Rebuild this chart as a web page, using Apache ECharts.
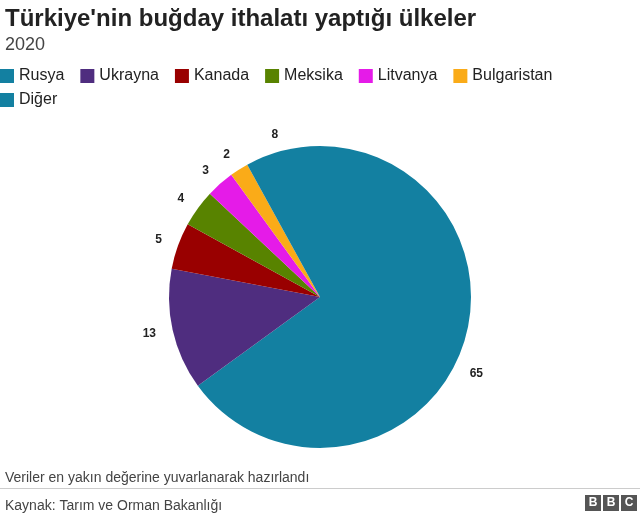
<!DOCTYPE html>
<html>
<head>
<meta charset="utf-8">
<script src="https://cdn.jsdelivr.net/npm/echarts@6/dist/echarts.min.js"></script>
<style>
html,body{margin:0;padding:0;background:#fff;}
#chart{width:640px;height:516px;}
</style>
</head>
<body>
<div id="chart"></div>
<script>
// ülkeler ve payları (%)
var countries = ['Rusya', 'Ukrayna', 'Kanada', 'Meksika', 'Litvanya', 'Bulgaristan', 'Diğer'];
var shares = [65, 13, 5, 4, 3, 2, 8];
var colors = ['#1380A1', '#4F2D7F', '#990000', '#588300', '#E51BE8', '#FAAB18', '#1380A1'];

var chart = echarts.init(document.getElementById('chart'));
var font = 'Liberation Sans, Arial, sans-serif';

var legendBase = {
  left: 0, padding: 0,
  itemWidth: 14, itemHeight: 14, itemGap: 16, itemTextGap: 6,
  icon: 'rect',
  textStyle: { fontSize: 16, color: '#222', fontFamily: font }
};

chart.setOption({
  animation: false,
  textStyle: { fontFamily: font },
  title: [
    { text: "Türkiye'nin buğday ithalatı yaptığı ülkeler", left: 0, top: 2,
      textStyle: { fontSize: 24, fontWeight: 'bold', color: '#222', fontFamily: font } },
    { text: '2020', left: 0, top: 31,
      textStyle: { fontSize: 18, fontWeight: 'normal', color: '#444', fontFamily: font } },
    { text: 'Veriler en yakın değerine yuvarlanarak hazırlandı', left: 0, top: 466,
      textStyle: { fontSize: 14, fontWeight: 'normal', color: '#444', fontFamily: font } },
    { text: 'Kaynak: Tarım ve Orman Bakanlığı', left: 0, top: 494,
      textStyle: { fontSize: 14, fontWeight: 'normal', color: '#444', fontFamily: font } }
  ],
  legend: [
    Object.assign({}, legendBase, { top: 68, data: countries.slice(0, 6) }),
    Object.assign({}, legendBase, { top: 92, data: countries.slice(6) })
  ],
  graphic: [
    { type: 'rect', shape: { x: 0, y: 488, width: 640, height: 1 }, style: { fill: '#ccc' } },
    { type: 'group', left: 585, top: 495, children: [0, 1, 2].map(function (i) {
      return { type: 'group', children: [
        { type: 'rect', shape: { x: i * 18, y: 0, width: 16, height: 16 }, style: { fill: '#555' } },
        { type: 'text', style: { x: i * 18 + 8, y: 8, text: 'BBC'[i], fill: '#fff',
          font: 'bold 12px ' + font, align: 'center', verticalAlign: 'middle' } }
      ] };
    }) }
  ],
  series: [{
    type: 'pie',
    center: [320, 297],
    radius: [0, 151],
    startAngle: 90,
    clockwise: true,
    legendHoverLink: false,
    label: { show: true, position: 'outside', formatter: '{c}', fontSize: 12,
      fontWeight: 'bold', color: '#222', fontFamily: font, distanceToLabelLine: 0 },
    labelLine: { show: false, length: 17, length2: 0 },
    itemStyle: { borderColor: '#fff', borderWidth: 0 },
    data: countries.map(function (c, i) {
      return { name: c, value: shares[i], itemStyle: { color: colors[i] } };
    })
  }]
});
</script>
</body>
</html>
